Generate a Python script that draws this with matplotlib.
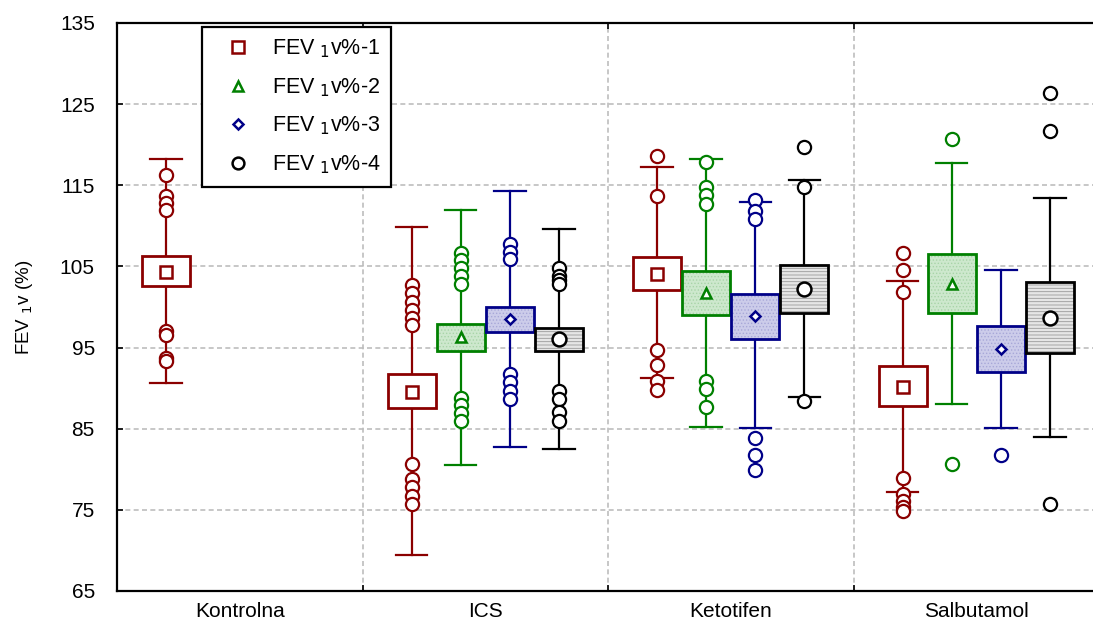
import numpy as np
import matplotlib
matplotlib.use('Agg')
import matplotlib.pyplot as plt
from matplotlib.patches import Rectangle
from matplotlib.lines import Line2D

plt.rcParams['font.family'] = ['Liberation Sans', 'DejaVu Sans']
plt.rcParams['hatch.linewidth'] = 0.6

categories = ['Kontrolna', 'ICS', 'Ketotifen', 'Salbutamol']
series_labels = [r'FEV $_1$v%-1', r'FEV $_1$v%-2', r'FEV $_1$v%-3', r'FEV $_1$v%-4']
y_ticks = [65, 75, 85, 95, 105, 115, 125, 135]

nan = np.nan
# series 1
mean_1 = [104.35, 89.5, 104.1, 90.1]
box_low_1 = [102.6, 87.5, 102.1, 87.85]
box_high_1 = [106.3, 91.7, 106.2, 92.7]
whisk_low_1 = [90.6, 69.4, 91.2, 77.2]
whisk_high_1 = [118.3, 109.8, 117.2, 103.2]
outliers_1 = [[116.3, 113.7, 112.8, 112.0, 97.1, 96.55, 93.7, 93.4],
              [102.7, 101.7, 100.6, 99.6, 98.7, 97.8, 80.65, 78.8, 77.8, 76.75, 75.7],
              [118.65, 113.7, 94.7, 92.85, 90.9, 89.8],
              [106.7, 104.6, 101.8, 78.9, 76.9, 76.1, 75.4, 74.8]]
# series 2
mean_2 = [nan, 96.3, 101.7, 102.8]
box_low_2 = [nan, 94.6, 99.0, 99.3]
box_high_2 = [nan, 97.9, 104.4, 106.5]
whisk_low_2 = [nan, 80.5, 85.25, 88.0]
whisk_high_2 = [nan, 112.0, 118.2, 117.8]
outliers_2 = [[],
              [106.7, 105.8, 104.8, 103.8, 102.8, 88.8, 87.9, 86.9, 85.9],
              [117.9, 114.8, 113.8, 112.7, 90.9, 89.9, 87.7],
              [120.7, 80.65]]
# series 3
mean_3 = [nan, 98.5, 98.9, 94.8]
box_low_3 = [nan, 96.9, 96.05, 92.0]
box_high_3 = [nan, 100.0, 101.6, 97.65]
whisk_low_3 = [nan, 82.7, 85.1, 85.05]
whisk_high_3 = [nan, 114.3, 112.9, 104.6]
outliers_3 = [[],
              [107.8, 106.8, 105.9, 91.8, 90.7, 89.7, 88.7],
              [113.2, 111.8, 110.8, 83.8, 81.8, 79.9],
              [81.7]]
# series 4
mean_4 = [nan, 96.0, 102.2, 98.6]
box_low_4 = [nan, 94.6, 99.3, 94.3]
box_high_4 = [nan, 97.4, 105.2, 103.1]
whisk_low_4 = [nan, 82.5, 88.95, 84.0]
whisk_high_4 = [nan, 109.6, 115.7, 113.4]
outliers_4 = [[],
              [104.8, 103.8, 103.3, 102.8, 89.6, 88.7, 87.0, 86.0],
              [119.7, 114.75, 88.45],
              [126.4, 121.7, 75.7]]

means = [mean_1, mean_2, mean_3, mean_4]
box_lows = [box_low_1, box_low_2, box_low_3, box_low_4]
box_highs = [box_high_1, box_high_2, box_high_3, box_high_4]
whisk_lows = [whisk_low_1, whisk_low_2, whisk_low_3, whisk_low_4]
whisk_highs = [whisk_high_1, whisk_high_2, whisk_high_3, whisk_high_4]
outliers = [outliers_1, outliers_2, outliers_3, outliers_4]

colors = ['#8b0000', '#008000', '#000088', '#000000']
fills = ['white', '#cde8cd', '#ccccea', '#e6e6e6']
hatches = [None, '.....', '.....', '-----']
hatch_cols = [None, '#a8d4a8', '#a8a8d8', '#9a9a9a']
mean_markers = ['s', '^', 'D', 'o']
mean_sizes = [9, 7, 5.5, 10]
offsets = [-0.3, -0.1, 0.1, 0.3]
box_w = 0.195
cap_w = 0.128

fig = plt.figure(figsize=(10.93, 6.2), dpi=100)
ax = fig.add_axes([117/1093, 29/620, 982/1093, 568/620])

for s in range(4):
    c = colors[s]
    for g in range(4):
        m = means[s][g]
        if np.isnan(m):
            continue
        x = g + 0.5 + offsets[s]
        ax.plot([x, x], [whisk_lows[s][g], whisk_highs[s][g]], color=c, lw=1.6, zorder=2)
        for yv in (whisk_lows[s][g], whisk_highs[s][g]):
            ax.plot([x - cap_w/2, x + cap_w/2], [yv, yv], color=c, lw=1.6, zorder=2)
        lo, hi = box_lows[s][g], box_highs[s][g]
        ax.add_patch(Rectangle((x - box_w/2, lo), box_w, hi - lo, facecolor=fills[s],
                               edgecolor='none', zorder=3))
        if hatches[s]:
            ax.add_patch(Rectangle((x - box_w/2, lo), box_w, hi - lo, facecolor='none',
                                   edgecolor=hatch_cols[s], hatch=hatches[s], lw=0, zorder=3.5))
        ax.add_patch(Rectangle((x - box_w/2, lo), box_w, hi - lo, facecolor='none',
                               edgecolor=c, lw=2.0, zorder=4))
        ov = outliers[s][g]
        if ov:
            ax.plot([x]*len(ov), ov, linestyle='none', marker='o', ms=9.5, mfc='white',
                    mec=c, mew=1.6, zorder=5)
        ax.plot([x], [m], marker=mean_markers[s], ms=mean_sizes[s], mfc='white', mec=c,
                mew=1.8, zorder=6, linestyle='none')

ax.set_xlim(0, 4)
ax.set_ylim(65, 135)
ax.set_yticks(y_ticks)
ax.set_xticks([1, 2, 3])
ax.set_xticklabels([])
ax.set_xticks([g + 0.5 for g in range(4)], minor=True)
ax.set_xticklabels(categories, minor=True, fontsize=15)
ax.tick_params(axis='x', which='minor', length=0, pad=8)
ax.tick_params(axis='both', which='major', direction='in', length=4, top=True, right=False,
               labelsize=15, width=1.2)
ax.tick_params(axis='y', pad=16)
ax.grid(True, which='major', linestyle=(0, (3, 2)), color='#bdbdbd', lw=1.2)
ax.set_axisbelow(True)
for sp in ax.spines.values():
    sp.set_linewidth(1.6)
    sp.set_color('black')
ax.spines['right'].set_visible(False)
ax.set_ylabel(r'FEV $_1$v (%)', fontsize=13.5, labelpad=18)

handles = [Line2D([], [], linestyle='none', marker=mean_markers[s], ms=[8, 6.5, 5, 8.5][s],
                  mfc='white', mec=colors[s], mew=1.8) for s in range(4)]
leg = ax.legend(handles, series_labels, loc='upper left', bbox_to_anchor=(0.0866, 0.993),
                fontsize=15.5, frameon=True, fancybox=False, framealpha=1,
                edgecolor='black', labelspacing=0.74, handletextpad=0.45,
                borderpad=0.5, handlelength=2.3, borderaxespad=0)
leg.get_frame().set_linewidth(1.6)

fig.savefig('out.png', dpi=100)
